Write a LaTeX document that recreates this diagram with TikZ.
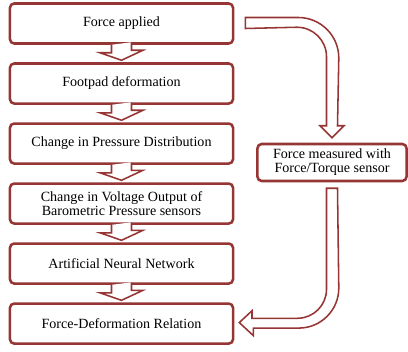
\documentclass[tikz,border=0pt]{standalone}
\usepackage{fontspec}
\setmainfont{Liberation Serif}
\usetikzlibrary{positioning, calc}
\definecolor{boxred}{RGB}{150,54,52}

\begin{document}
\begin{tikzpicture} [x=0.025cm, y=0.025cm,
            node distance = 1.5cm,
            on grid,
            box/.style = {draw=boxred, line width=1.8pt, rounded corners=3pt,
                minimum width=5.575cm, minimum height=1cm, align=center,
                font=\fontsize{10}{10}\selectfont},
            sidebox/.style = {box, minimum width=3.725cm, minimum height=0.925cm},
            blockarrow/.style = {draw=boxred, line width=1.1pt, fill=white}]

        \useasboundingbox (0,0) rectangle (408,351);

        % Box 1
        \node (fa) [box] at (121.5,327.5) {Force applied};

        % Box 2
        \node (fd) [box,
            below = of fa] {Footpad deformation};

        % Box 3
        \node (pd) [box,
            below = of fd] {Change in Pressure Distribution};

        % Box 4
        \node (vo) [box,
            below = of pd] {Change in Voltage Output of\\Barometric Pressure sensors};

        % Box 5
        \node (ann) [box,
            below = of vo] {Artificial Neural Network};

        % Box 6
        \node (fdr) [box,
            below = of ann] {Force-Deformation Relation};

        % Sensor box
        \node (fm) [sidebox] at (332,188.5) {Force measured with\\Force/Torque sensor};

        % Short arrows
        \foreach \a/\b in {fa/fd, fd/pd, pd/vo, vo/ann, ann/fdr}
            \draw [blockarrow] ($(\a.south)+(-10,0)$) -- ++(0,-8) -- ++(-11.5,0)
                -- ($(\b.north)+(0,2)$) -- ++(21.5,10) -- ++(-11.5,0) -- ++(0,8);

        % Arrow to sensor
        \draw [blockarrow] ($(fa.east)+(11,6)$) -- ++(53,0)
            arc [start angle=90, end angle=0, radius=40.5]
            -- ($(fm.north)+(5.5,17)$) -- ++(6.5,0)
            -- ($(fm.north)+(0,5)$) -- ++(-12,12) -- ++(6.5,0) -- ++(0,69)
            arc [start angle=0, end angle=90, radius=29.5]
            -- ($(fa.east)+(11,-5)$) -- cycle;

        % Arrow back to relation
        \draw [blockarrow] ($(fm.south)+(-5.5,-6)$) -- ++(0,-101)
            arc [start angle=0, end angle=-90, radius=29]
            -- ++(-45.5,0) -- ++(0,7.5)
            -- ($(fdr.east)+(5,1)$) -- ++(14,-13) -- ++(0,7.5) -- ++(45.5,0)
            arc [start angle=-90, end angle=0, radius=40]
            -- ($(fm.south)+(5.5,-6)$) -- cycle;
        \end{tikzpicture}
\end{document}
